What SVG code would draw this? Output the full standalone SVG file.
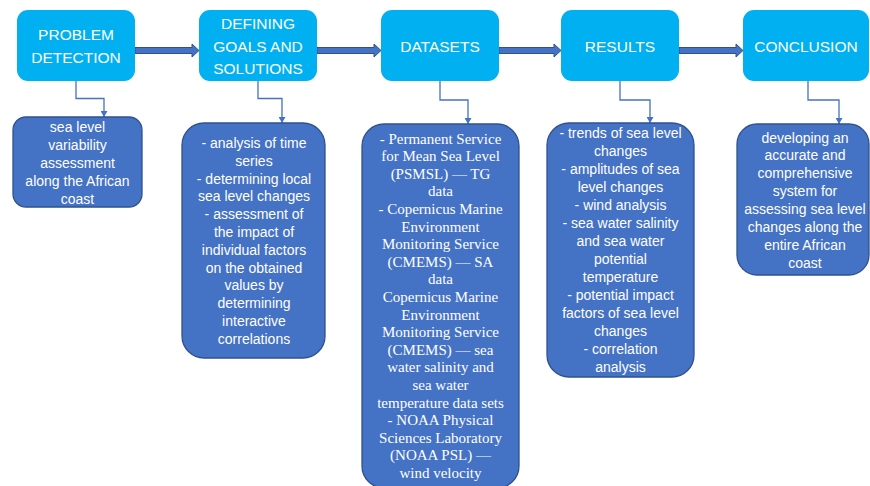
<svg xmlns="http://www.w3.org/2000/svg" width="870" height="486" viewBox="0 0 870 486">
  <style>
    .stage { fill: #00B0F0; }
    .stage-label { font-family: "Liberation Sans", Arial, sans-serif; font-size: 15.5px; fill: #ffffff; text-anchor: middle; }
    .detail { fill: #4472C4; stroke: #2F528F; stroke-width: 1.3; }
    .detail-text { font-family: "Liberation Sans", Arial, sans-serif; font-size: 14px; fill: #ffffff; text-anchor: middle; }
    .detail-serif { font-family: "Liberation Serif", "Times New Roman", serif; font-size: 15px; fill: #ffffff; text-anchor: middle; }
    .flow { fill: #4472C4; stroke: #2F528F; stroke-width: 1; }
    .drop { fill: none; stroke: #4472C4; stroke-width: 1.3; marker-end: url(#tip); }
  </style>
  <defs>
    <marker id="tip" markerUnits="userSpaceOnUse" markerWidth="7" markerHeight="7" refX="6" refY="3.5" orient="auto">
      <path d="M0,0 L6,3.5 L0,7 z" fill="#4472C4"/>
    </marker>
  </defs>
  <rect width="870" height="486" fill="#ffffff"/>

  <!-- connectors: main flow arrows and drops to the detail boxes -->
  <g id="connectors">
    <polygon class="flow" points="135,47.5 192,47.5 192,44 199,50.5 192,57 192,53.5 135,53.5"/>
    <polygon class="flow" points="317,47.5 374,47.5 374,44 381,50.5 374,57 374,53.5 317,53.5"/>
    <polygon class="flow" points="499,47.5 554,47.5 554,44 561,50.5 554,57 554,53.5 499,53.5"/>
    <polygon class="flow" points="679,47.5 736,47.5 736,44 743,50.5 736,57 736,53.5 679,53.5"/>
    <path class="drop" d="M76,81 V98.5 H104 V117"/>
    <path class="drop" d="M258,81 V98.5 H282 V123"/>
    <path class="drop" d="M440,81 V100 H468 V124"/>
    <path class="drop" d="M620,81 V100 H650 V123"/>
    <path class="drop" d="M808,81 V100 H839 V124"/>
  </g>

  <!-- stage headers -->
  <g id="problem-detection">
    <rect class="stage" x="17" y="10" width="118" height="71" rx="11"/>
    <text class="stage-label" x="76" y="40">PROBLEM</text>
    <text class="stage-label" x="76" y="63">DETECTION</text>
  </g>
  <g id="defining-goals">
    <rect class="stage" x="199" y="10" width="118" height="71" rx="11"/>
    <text class="stage-label" x="258" y="28.5">DEFINING</text>
    <text class="stage-label" x="258" y="51.5">GOALS AND</text>
    <text class="stage-label" x="258" y="74">SOLUTIONS</text>
  </g>
  <g id="datasets">
    <rect class="stage" x="381" y="10" width="118" height="71" rx="11"/>
    <text class="stage-label" x="440" y="51.5">DATASETS</text>
  </g>
  <g id="results">
    <rect class="stage" x="561" y="10" width="118" height="71" rx="11"/>
    <text class="stage-label" x="620" y="51.5">RESULTS</text>
  </g>
  <g id="conclusion">
    <rect class="stage" x="743" y="10" width="126" height="71" rx="11"/>
    <text class="stage-label" x="806" y="51.5">CONCLUSION</text>
  </g>

  <!-- detail boxes -->
  <g id="problem-detail">
    <rect class="detail" x="13" y="117" width="129" height="90" rx="13"/>
    <text class="detail-text" x="77.5" y="132">sea level</text>
    <text class="detail-text" x="77.5" y="150">variability</text>
    <text class="detail-text" x="77.5" y="168">assessment</text>
    <text class="detail-text" x="77.5" y="186">along the African</text>
    <text class="detail-text" x="77.5" y="203.5">coast</text>
  </g>
  <g id="goals-detail">
    <rect class="detail" x="182" y="123" width="143" height="235" rx="22"/>
    <text class="detail-text" x="254" y="148">- analysis of time</text>
    <text class="detail-text" x="254" y="165.8">series</text>
    <text class="detail-text" x="254" y="183.6">- determining local</text>
    <text class="detail-text" x="254" y="201.4">sea level changes</text>
    <text class="detail-text" x="254" y="219.2">- assessment of</text>
    <text class="detail-text" x="254" y="237">the impact of</text>
    <text class="detail-text" x="254" y="254.8">individual factors</text>
    <text class="detail-text" x="254" y="272.6">on the obtained</text>
    <text class="detail-text" x="254" y="290.4">values by</text>
    <text class="detail-text" x="254" y="308.2">determining</text>
    <text class="detail-text" x="254" y="326">interactive</text>
    <text class="detail-text" x="254" y="343.8">correlations</text>
  </g>
  <g id="datasets-detail">
    <rect class="detail" x="362" y="124" width="157" height="364" rx="22"/>
    <text class="detail-serif" x="440.5" y="143.5">- Permanent Service</text>
    <text class="detail-serif" x="440.5" y="161.1">for Mean Sea Level</text>
    <text class="detail-serif" x="440.5" y="178.7">(PSMSL) — TG</text>
    <text class="detail-serif" x="440.5" y="196.3">data</text>
    <text class="detail-serif" x="440.5" y="213.9">- Copernicus Marine</text>
    <text class="detail-serif" x="440.5" y="231.5">Environment</text>
    <text class="detail-serif" x="440.5" y="249.1">Monitoring Service</text>
    <text class="detail-serif" x="440.5" y="266.7">(CMEMS) — SA</text>
    <text class="detail-serif" x="440.5" y="284.3">data</text>
    <text class="detail-serif" x="440.5" y="301.9">Copernicus Marine</text>
    <text class="detail-serif" x="440.5" y="319.5">Environment</text>
    <text class="detail-serif" x="440.5" y="337.1">Monitoring Service</text>
    <text class="detail-serif" x="440.5" y="354.7">(CMEMS) — sea</text>
    <text class="detail-serif" x="440.5" y="372.3">water salinity and</text>
    <text class="detail-serif" x="440.5" y="389.9">sea water</text>
    <text class="detail-serif" x="440.5" y="407.5">temperature data sets</text>
    <text class="detail-serif" x="440.5" y="425.1">- NOAA Physical</text>
    <text class="detail-serif" x="440.5" y="442.7">Sciences Laboratory</text>
    <text class="detail-serif" x="440.5" y="460.3">(NOAA PSL) —</text>
    <text class="detail-serif" x="440.5" y="477.9">wind velocity</text>
  </g>
  <g id="results-detail">
    <rect class="detail" x="547" y="123" width="147" height="254" rx="22"/>
    <text class="detail-text" x="620.5" y="137.5">- trends of sea level</text>
    <text class="detail-text" x="620.5" y="155.5">changes</text>
    <text class="detail-text" x="620.5" y="173.5">- amplitudes of sea</text>
    <text class="detail-text" x="620.5" y="191.5">level changes</text>
    <text class="detail-text" x="620.5" y="209.5">- wind analysis</text>
    <text class="detail-text" x="620.5" y="227.5">- sea water salinity</text>
    <text class="detail-text" x="620.5" y="245.5">and sea water</text>
    <text class="detail-text" x="620.5" y="263.5">potential</text>
    <text class="detail-text" x="620.5" y="281.5">temperature</text>
    <text class="detail-text" x="620.5" y="299.5">- potential impact</text>
    <text class="detail-text" x="620.5" y="317.5">factors of sea level</text>
    <text class="detail-text" x="620.5" y="335.5">changes</text>
    <text class="detail-text" x="620.5" y="353.5">- correlation</text>
    <text class="detail-text" x="620.5" y="371.5">analysis</text>
  </g>
  <g id="conclusion-detail">
    <rect class="detail" x="737" y="124" width="132" height="151" rx="20"/>
    <text class="detail-text" x="805" y="142.5">developing an</text>
    <text class="detail-text" x="805" y="160.4">accurate and</text>
    <text class="detail-text" x="805" y="178.3">comprehensive</text>
    <text class="detail-text" x="805" y="196.2">system for</text>
    <text class="detail-text" x="805" y="214.1">assessing sea level</text>
    <text class="detail-text" x="805" y="232">changes along the</text>
    <text class="detail-text" x="805" y="249.9">entire African</text>
    <text class="detail-text" x="805" y="267.8">coast</text>
  </g>
</svg>
